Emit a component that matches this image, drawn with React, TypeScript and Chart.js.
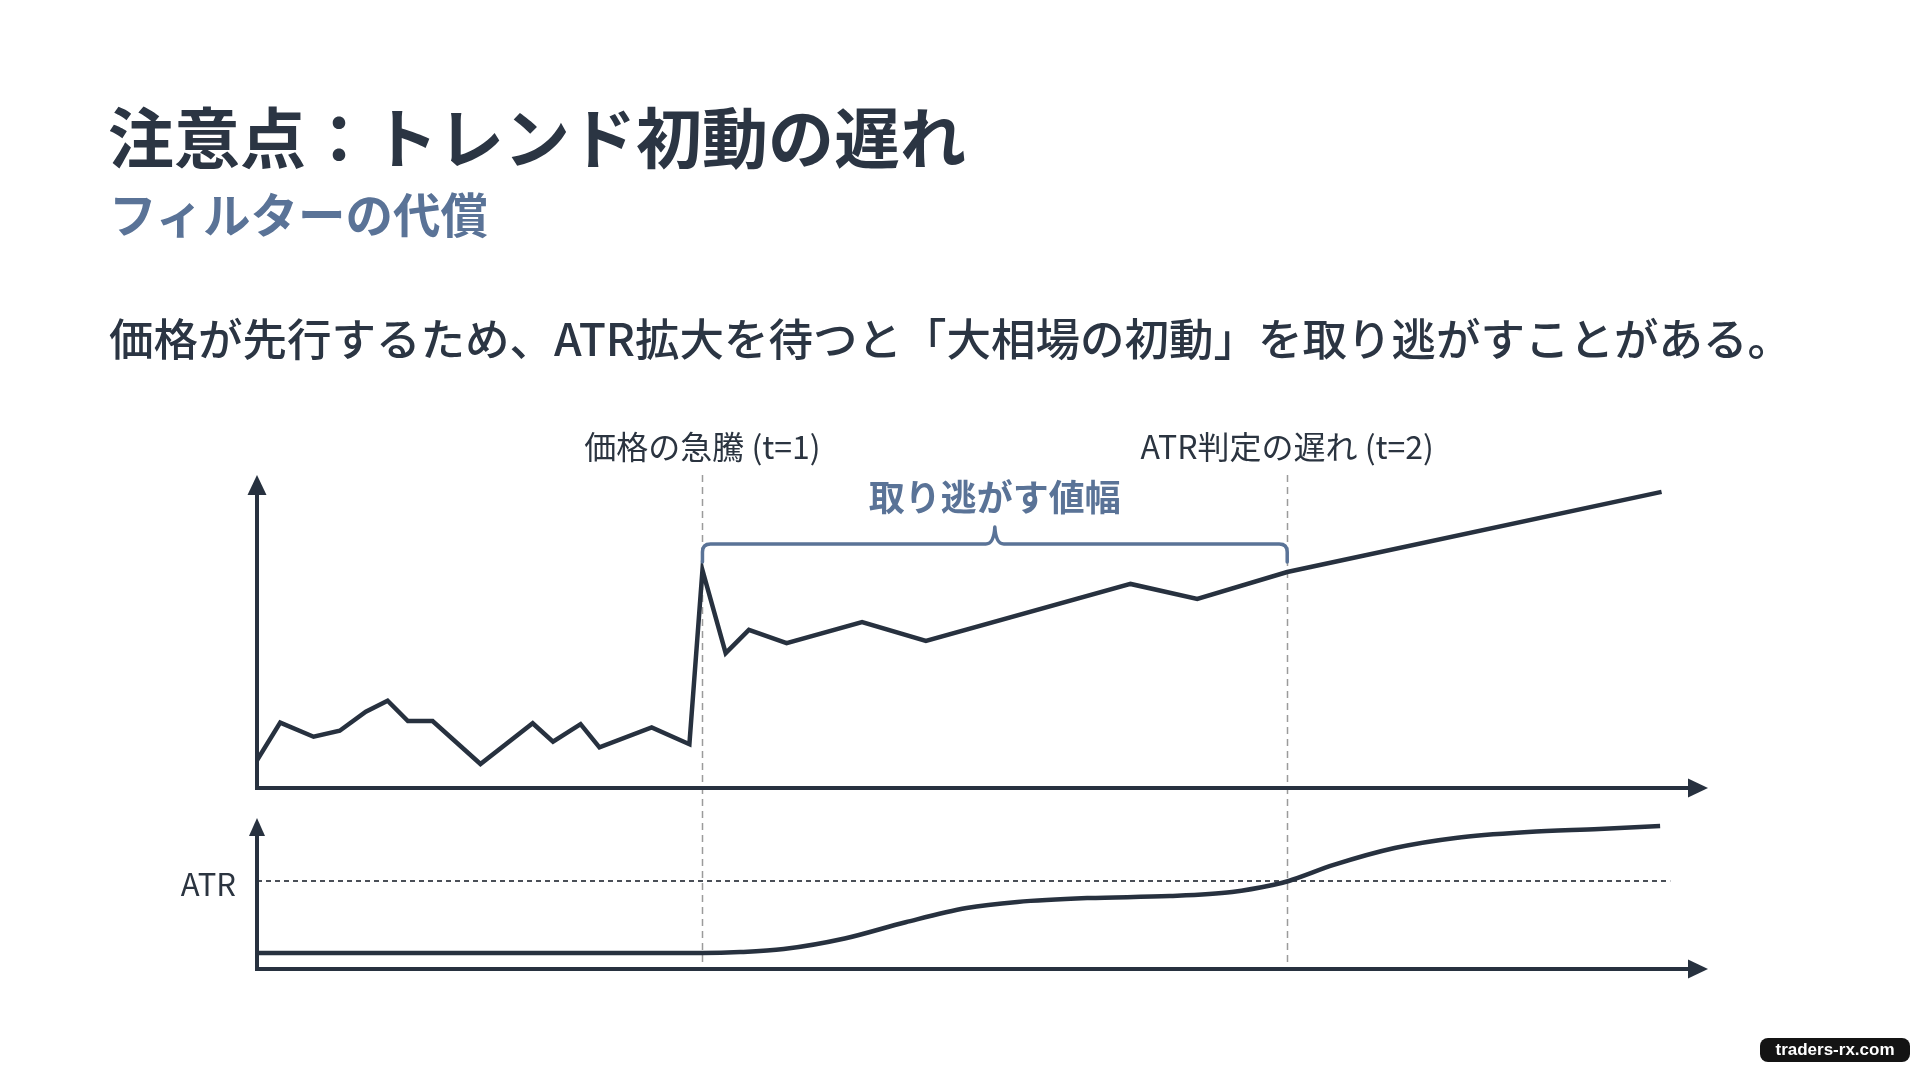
import React, { useEffect, useRef } from "react";
import { Chart, registerables } from "chart.js";

Chart.register(...registerables);

// ---- Text ----
const TITLE = "注意点：トレンド初動の遅れ";
const SUBTITLE = "フィルターの代償";
const BODY = "価格が先行するため、ATR拡大を待つと「大相場の初動」を取り逃がすことがある。";
const LABEL_T1 = "価格の急騰 (t=1)";
const LABEL_T2 = "ATR判定の遅れ (t=2)";
const LABEL_GAP = "取り逃がす値幅";
const LABEL_ATR = "ATR";
const WATERMARK = "traders-rx.com";

// ---- Event times (x units) ----
const T1 = 30.7;
const T2 = 71.0;

// ---- Price series ----
const priceX = [0, 1.6, 3.9, 5.7, 7.5, 9.0, 10.4, 12.1, 15.4, 19.0, 20.4, 22.3, 23.6, 27.2, 29.8, 30.7, 32.3, 33.9, 36.5, 41.7, 46.1, 60.2, 64.8, 71.0, 96.8];
const priceY = [8.9, 20.9, 16.4, 18.3, 24.4, 27.9, 21.4, 21.4, 7.7, 20.7, 14.8, 20.4, 13.0, 19.4, 14.0, 69.6, 43.1, 50.5, 46.3, 53.0, 47.0, 65.2, 60.4, 69.0, 94.6];

// ---- ATR series ----
const atrX = [0, 10, 20, 30.7, 33.3, 36.3, 40.5, 44.7, 48.9, 52.4, 57.3, 62.9, 67.2, 70.0, 71.1, 74.2, 78.4, 82.6, 87.6, 92.5, 96.7];
const atrY = [10.6, 10.6, 10.6, 10.6, 11.2, 13.2, 20.2, 31.0, 40.4, 44.4, 47.0, 48.3, 51.0, 55.6, 58.3, 68.9, 80.1, 86.8, 90.7, 92.7, 94.7];

// ---- ATR threshold ----
const ATR_THRESHOLD = 58.3;
const thresholdX = [0, 97.4];

const DARK = "#27313f";
const BLUE = "#5a7397";
const FONT = "'Noto Sans CJK JP', 'Noto Sans', sans-serif";

function drawArrow(ctx: CanvasRenderingContext2D, x1: number, y1: number, x2: number, y2: number, head = 20, half = 9.5) {
  const ang = Math.atan2(y2 - y1, x2 - x1);
  const bx = x2 - head * Math.cos(ang);
  const by = y2 - head * Math.sin(ang);
  ctx.beginPath();
  ctx.moveTo(x1, y1);
  ctx.lineTo(bx, by);
  ctx.stroke();
  ctx.beginPath();
  ctx.moveTo(x2, y2);
  ctx.lineTo(bx + half * Math.sin(ang), by - half * Math.cos(ang));
  ctx.lineTo(bx - half * Math.sin(ang), by + half * Math.cos(ang));
  ctx.closePath();
  ctx.fill();
}

const overlayPlugin = {
  id: "overlay",
  beforeDatasetsDraw(chart: any) {
    const { ctx, chartArea, scales } = chart;
    const xs = scales.x;
    ctx.save();
    ctx.strokeStyle = "#9b9b9b";
    ctx.lineWidth = 1.5;
    ctx.setLineDash([7, 5]);
    [T1, T2].forEach((t) => {
      const px = Math.round(xs.getPixelForValue(t)) + 0.5;
      ctx.beginPath();
      ctx.moveTo(px, chartArea.top);
      ctx.lineTo(px, chartArea.bottom);
      ctx.stroke();
    });
    ctx.restore();
  },
  afterDatasetsDraw(chart: any) {
    const { ctx, scales } = chart;
    const xs = scales.x;
    const yp = scales.yPrice;
    const ya = scales.yAtr;
    const x0 = xs.getPixelForValue(0);
    const xEnd = xs.getPixelForValue(100);
    ctx.save();
    ctx.strokeStyle = DARK;
    ctx.fillStyle = DARK;
    ctx.lineWidth = 4;
    ctx.lineCap = "butt";
    // upper axes
    const yp0 = yp.getPixelForValue(0);
    drawArrow(ctx, x0, yp0 + 2, x0, yp.getPixelForValue(100));
    drawArrow(ctx, x0 - 2, yp0, xEnd, yp0);
    // lower axes
    const ya0 = ya.getPixelForValue(0);
    drawArrow(ctx, x0, ya0 + 2, x0, ya.getPixelForValue(100), 18, 8);
    drawArrow(ctx, x0 - 2, ya0, xEnd, ya0);

    // labels
    const x1 = xs.getPixelForValue(T1);
    const x2 = xs.getPixelForValue(T2);
    ctx.textAlign = "center";
    ctx.textBaseline = "middle";
    ctx.fillStyle = "#2b3440";
    ctx.font = `400 32px ${FONT}`;
    ctx.fillText(LABEL_T1, x1, 447);
    ctx.fillText(LABEL_T2, x2, 447);

    ctx.fillStyle = BLUE;
    ctx.font = `700 36px ${FONT}`;
    const mid = (x1 + x2) / 2;
    ctx.fillText(LABEL_GAP, mid, 497);

    // bracket
    const by = 544;
    const r = 8;
    ctx.strokeStyle = BLUE;
    ctx.lineWidth = 3.5;
    ctx.lineJoin = "round";
    ctx.lineCap = "round";
    ctx.beginPath();
    ctx.moveTo(x1, 562);
    ctx.lineTo(x1, by + r);
    ctx.quadraticCurveTo(x1, by, x1 + r, by);
    ctx.lineTo(mid - 9, by);
    ctx.quadraticCurveTo(mid - 1, by, mid, 527);
    ctx.quadraticCurveTo(mid + 1, by, mid + 9, by);
    ctx.lineTo(x2 - r, by);
    ctx.quadraticCurveTo(x2, by, x2, by + r);
    ctx.lineTo(x2, 562);
    ctx.stroke();

    // ATR label
    ctx.fillStyle = "#2b3440";
    ctx.font = `400 31px ${FONT}`;
    ctx.textAlign = "right";
    ctx.fillText(LABEL_ATR, x0 - 21, ya.getPixelForValue(ATR_THRESHOLD) + 3);
    ctx.restore();
  },
};

function ChartCanvas() {
  const ref = useRef<HTMLCanvasElement | null>(null);
  useEffect(() => {
    if (!ref.current) return;
    const chart = new Chart(ref.current, {
      type: "line",
      data: {
        datasets: [
          {
            label: "Price",
            data: priceX.map((x, i) => ({ x, y: priceY[i] })),
            yAxisID: "yPrice",
            borderColor: DARK,
            borderWidth: 4.5,
            pointRadius: 0,
            tension: 0,
            borderJoinStyle: "miter",
            fill: false,
          },
          {
            label: "ATR",
            data: atrX.map((x, i) => ({ x, y: atrY[i] })),
            yAxisID: "yAtr",
            borderColor: DARK,
            borderWidth: 4.5,
            pointRadius: 0,
            cubicInterpolationMode: "monotone",
            fill: false,
          },
          {
            label: "Threshold",
            data: thresholdX.map((x) => ({ x, y: ATR_THRESHOLD })),
            yAxisID: "yAtr",
            borderColor: "#4a4f57",
            borderWidth: 2,
            borderDash: [5, 4],
            pointRadius: 0,
            fill: false,
          },
        ],
      },
      options: {
        animation: false,
        responsive: false,
        devicePixelRatio: 1,
        layout: { padding: { left: 257, right: 212, top: 475, bottom: 103 } },
        plugins: { legend: { display: false }, tooltip: { enabled: false } },
        scales: {
          x: { type: "linear", min: 0, max: 100, display: false },
          yPrice: { type: "linear", min: -57.8, max: 100, display: false },
          yAtr: { type: "linear", min: 0, max: 327.2, display: false },
        },
      } as any,
      plugins: [overlayPlugin],
    });
    return () => chart.destroy();
  }, []);
  return (
    <canvas
      ref={ref}
      width={1920}
      height={1072}
      style={{ position: "absolute", left: 0, top: 0, width: 1920, height: 1072 }}
    />
  );
}

export default function App() {
  return (
    <div
      style={{
        position: "fixed",
        left: 0,
        top: 0,
        width: 1920,
        height: 1072,
        overflow: "hidden",
        background: "#ffffff",
        fontFamily: FONT,
      }}
    >
      <ChartCanvas />
      <div
        style={{
          position: "absolute",
          left: 108,
          top: 101,
          fontSize: 66,
          fontWeight: 700,
          lineHeight: "66px",
          color: "#2b3543",
          whiteSpace: "nowrap",
        }}
      >
        {TITLE}
      </div>
      <div
        style={{
          position: "absolute",
          left: 109,
          top: 189,
          fontSize: 47.5,
          fontWeight: 700,
          lineHeight: "47px",
          color: BLUE,
          whiteSpace: "nowrap",
        }}
      >
        {SUBTITLE}
      </div>
      <div
        style={{
          position: "absolute",
          left: 109,
          top: 314,
          fontSize: 44.5,
          fontWeight: 500,
          lineHeight: "45px",
          color: "#2b3543",
          whiteSpace: "nowrap",
        }}
      >
        {BODY}
      </div>
      <div
        style={{
          position: "absolute",
          left: 1760,
          top: 1038,
          width: 150,
          height: 24,
          borderRadius: 8,
          background: "#141414",
          color: "#ffffff",
          fontFamily: "'Liberation Sans', Arial, sans-serif",
          fontWeight: 700,
          fontSize: 17,
          lineHeight: "24px",
          textAlign: "center",
          whiteSpace: "nowrap",
        }}
      >
        {WATERMARK}
      </div>
    </div>
  );
}
